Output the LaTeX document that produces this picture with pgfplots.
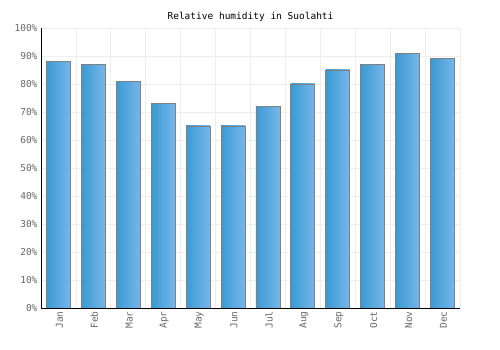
\documentclass[border=0pt]{standalone}
\usepackage{pgfplots}
\pgfplotsset{compat=1.18}
\usepackage{fontspec}
\setmainfont{DejaVu Sans Mono}
\definecolor{barL}{HTML}{3A9AD2}
\definecolor{barR}{HTML}{78B6EA}
\definecolor{gridc}{HTML}{EEEEEE}
\definecolor{tickc}{HTML}{666666}
\pgfplotsset{hbar/.style={ybar, bar width=24pt, bar shift=0pt, draw=gray, line width=0.8pt, left color=barL, right color=barR}}
\begin{document}
\begin{tikzpicture}
\useasboundingbox (-41pt,-42pt) rectangle (459pt,308pt);
\begin{axis}[
  at={(0,0)}, anchor=south west,
  scale only axis, width=419pt, height=280pt,
  xmin=-0.5, xmax=11.5, ymin=0, ymax=100,
  axis x line*=bottom, axis y line*=left,
  axis line style={-, black, line width=0.8pt},
  xtick={0,...,11},
  xticklabels={Jan,Feb,Mar,Apr,May,Jun,Jul,Aug,Sep,Oct,Nov,Dec},
  x tick label style={rotate=90, anchor=east, font=\fontsize{9.5}{10}\selectfont, text=tickc, yshift=-1pt},
  minor xtick={0.5,1.5,...,11.5},
  xminorgrids=true, xmajorgrids=false,
  ytick={0,10,...,100},
  yticklabel={\pgfmathprintnumber{\tick}\%},
  y tick label style={font=\fontsize{9.5}{10}\selectfont, text=tickc},
  ymajorgrids=true,
  grid style={gridc, line width=0.8pt},
  minor grid style={gridc, line width=0.8pt},
  major tick length=0pt, minor tick length=0pt,
  /pgf/number format/assume math mode=true,
  title={Relative humidity in Suolahti},
  title style={font=\fontsize{9.5}{10}\selectfont, yshift=-3pt},
]
\addplot[hbar] coordinates {(0,88)};
\addplot[hbar] coordinates {(1,87)};
\addplot[hbar] coordinates {(2,81)};
\addplot[hbar] coordinates {(3,73)};
\addplot[hbar] coordinates {(4,65)};
\addplot[hbar] coordinates {(5,65)};
\addplot[hbar] coordinates {(6,72)};
\addplot[hbar] coordinates {(7,80)};
\addplot[hbar] coordinates {(8,85)};
\addplot[hbar] coordinates {(9,87)};
\addplot[hbar] coordinates {(10,91)};
\addplot[hbar] coordinates {(11,89)};
\end{axis}
\end{tikzpicture}
\end{document}
